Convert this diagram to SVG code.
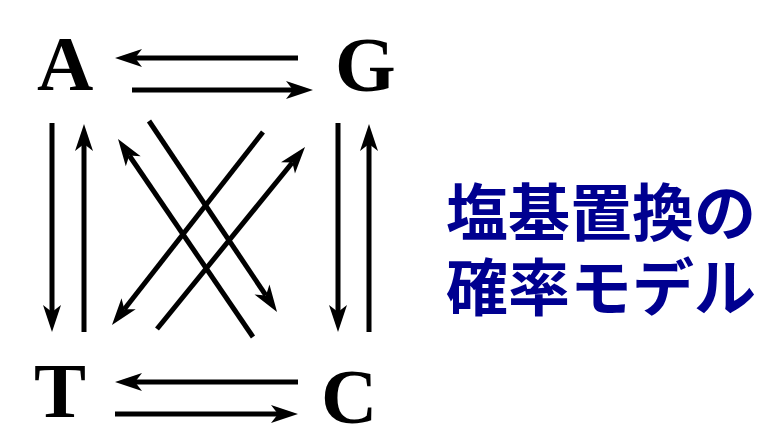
<svg xmlns="http://www.w3.org/2000/svg" width="764" height="434" viewBox="0 0 764 434">
<style>
.base{font-family:"Liberation Serif","Times New Roman",serif;font-weight:bold;font-size:78px;fill:#000}
.title{font-family:"Noto Sans CJK JP",sans-serif;font-weight:bold;font-size:62px;fill:#000090}
.c line{stroke:#000;stroke-width:5;fill:none;marker-end:url(#ah)}
.c line.plain{marker-end:none}
</style>
<defs>
<marker id="ah" markerUnits="userSpaceOnUse" viewBox="-10 -10 32 20" refX="0" refY="0" markerWidth="32" markerHeight="20" orient="auto">
<path d="M20,0 L-7,-9 L0,0 L-7,9 Z" fill="#000"/>
</marker>
</defs>
<rect width="764" height="434" fill="#fff"/>
<g id="node-A"><text class="base" x="37" y="90">A</text></g>
<g id="node-G"><text class="base" x="335" y="91">G</text></g>
<g id="node-T"><text class="base" x="34" y="417">T</text></g>
<g id="node-C"><text class="base" x="321" y="423">C</text></g>
<g id="connectors" class="c">
<line x1="298" y1="58" x2="135" y2="58"/>
<line x1="132" y1="90" x2="293" y2="90"/>
<line x1="298" y1="382" x2="135" y2="382"/>
<line x1="115" y1="414" x2="278" y2="414"/>
<line x1="52" y1="123" x2="52" y2="312"/>
<line x1="84" y1="332" x2="84" y2="144"/>
<line x1="338" y1="123" x2="338" y2="312"/>
<line x1="369" y1="332" x2="369" y2="144"/>
<line x1="149" y1="121" x2="265.9" y2="295.4"/>
<line x1="253" y1="337" x2="129.3" y2="155.5"/>
<line x1="263" y1="132" x2="124.3" y2="309.2"/>
<line x1="157" y1="329" x2="292.4" y2="162.5"/>
</g>
<g id="title">
<text class="title" x="446" y="236">塩基置換の</text>
<text class="title" x="446" y="311">確率モデル</text>
</g>
</svg>
